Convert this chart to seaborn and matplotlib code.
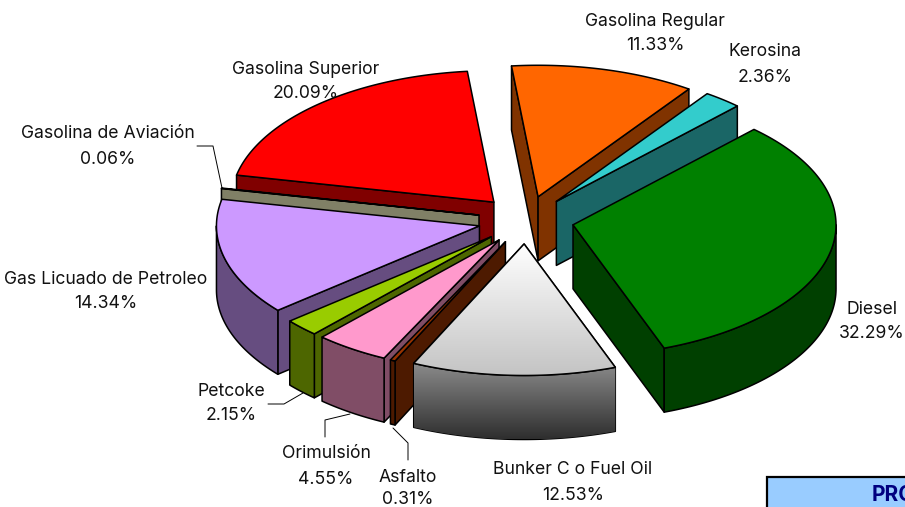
import numpy as np
import matplotlib
matplotlib.use("Agg")
import matplotlib.pyplot as plt
from matplotlib.patches import Polygon, Rectangle
import seaborn as sns

# ---- data ----
labels = ["Gasolina Regular", "Kerosina", "Diesel", "Bunker C o Fuel Oil", "Asfalto",
          "Orimulsión", "Petcoke", "Gas Licuado de Petroleo", "Gasolina de Aviación",
          "Gasolina Superior"]
values = [11.33, 2.36, 32.29, 12.53, 0.31, 4.55, 2.15, 14.34, 0.06, 20.09]
top_colors = ["#FF6600", "#33CCCC", "#008000", "#E8E8E8", "#993300",
              "#FF99CC", "#99CC00", "#CC99FF", "#808066", "#FF0000"]
side_colors = ["#803300", "#1A6666", "#004000", "#666666", "#4D1A00",
               "#804D66", "#4D6600", "#664D80", "#808066", "#800000"]
label_xy = [(655, 21), (765, 52), (872, 309), (573, 470), (408, 477),
            (326, 454), (231, 391), (106, 279), (108, 134), (306, 69)]

# ---- layout ----
CX, CY = 526, 220
R, K = 263, 0.5
EXPLODE = 48
DEPTH = 64
START = -5.8
LW = 1.1

sns.set_theme(style="white")
plt.rcParams["font.family"] = ["Inter", "DejaVu Sans"]
palette = sns.color_palette(top_colors)

fig = plt.figure(figsize=(9.05, 5.07), dpi=100)
ax = fig.add_axes([0, 0, 1, 1])
ax.set_xlim(0, 905)
ax.set_ylim(507, 0)
ax.axis("off")


def rim(t, o):
    t = np.radians(t)
    return o[0] + R * np.sin(t), o[1] - R * K * np.cos(t)


def poly(pts, fc, z):
    p = Polygon(pts, closed=True, facecolor=fc, edgecolor="black", linewidth=LW,
                joinstyle="round", zorder=z)
    ax.add_patch(p)
    return p


def gradient(patch, y0, y1, c0, c1, x0, x1, z):
    g = np.linspace(0, 1, 256)[:, None]
    c0, c1 = np.array(matplotlib.colors.to_rgb(c0)), np.array(matplotlib.colors.to_rgb(c1))
    img = (1 - g[..., None]) * c0 + g[..., None] * c1
    im = ax.imshow(img, extent=(x0, x1, y1, y0), aspect="auto", zorder=z, interpolation="bilinear")
    im.set_clip_path(patch)
    ax.set_xlim(0, 905)
    ax.set_ylim(507, 0)


shares = np.array(values) / sum(values) * 360
t_end = START + np.cumsum(shares)
t_start = t_end - shares
t_mid = (t_start + t_end) / 2
order = np.argsort(-np.cos(np.radians(t_mid)))

z = 2.0
for i in order:
    t1, t2, m = t_start[i], t_end[i], np.radians(t_mid[i])
    o = (CX + EXPLODE * np.sin(m), CY - EXPLODE * K * np.cos(m))
    side = side_colors[i]
    down = lambda p: (p[0], p[1] + DEPTH)
    # radial walls
    if np.sin(np.radians(t1)) < 0:
        a = rim(t1, o)
        poly([o, a, down(a), down(o)], side, z); z += 0.01
    if np.sin(np.radians(t2)) > 0:
        a = rim(t2, o)
        poly([o, a, down(a), down(o)], side, z); z += 0.01
    # outer wall, front half of the rim
    a, b = max(t1, 90), min(t2, 270)
    if b > a:
        ts = np.linspace(a, b, 80)
        upper = [rim(t, o) for t in ts]
        lower = [down(p) for p in upper][::-1]
        p = poly(upper + lower, side, z); z += 0.01
        if labels[i].startswith("Bunker"):
            p.set_facecolor("none")
            ys = [q[1] for q in upper + lower]
            xs = [q[0] for q in upper + lower]
            gradient(p, min(ys), max(ys), "#8C8C8C", "#2E2E2E", min(xs), max(xs), z); z += 0.01
    # top face
    ts = np.linspace(t1, t2, 120)
    pts = [o] + [rim(t, o) for t in ts]
    p = poly(pts, palette[i], z); z += 0.01
    if labels[i].startswith("Bunker"):
        p.set_facecolor("none")
        ys = [q[1] for q in pts]
        xs = [q[0] for q in pts]
        gradient(p, min(ys), max(ys), "#FFFFFF", "#C4C4C4", min(xs), max(xs), z); z += 0.01
        poly(pts, "none", z); z += 0.01

# labels
for name, v, (x, y) in zip(labels, values, label_xy):
    dy = 23 if name == "Asfalto" else 25
    ax.text(x, y, name, ha="center", va="center", fontsize=12.7, color="#111111", zorder=20)
    ax.text(x, y + dy, f"{v:.2f}%", ha="center", va="center", fontsize=12.7, color="#111111", zorder=20)

# leader lines
leaders = [[(197, 146), (213, 146), (222, 188)],
           [(268, 404), (284, 404), (303, 393)],
           [(325, 437), (325, 420), (350, 414)],
           [(408, 460), (408, 443), (393, 428)]]
for seg in leaders:
    xs, ys = zip(*seg)
    ax.plot(xs, ys, color="black", lw=0.7, zorder=15)

# clipped title box
ax.add_patch(Rectangle((767, 477), 160, 50, facecolor="#99CCFF", edgecolor="black", linewidth=1.6, zorder=18))
ax.text(872, 495, "PRO", color="#000080", fontsize=15, fontweight="bold", ha="left", va="center",
        zorder=19, clip_on=True)

sns.despine(ax=ax, left=True, bottom=True)
fig.savefig("out.png", dpi=100, facecolor="white")
